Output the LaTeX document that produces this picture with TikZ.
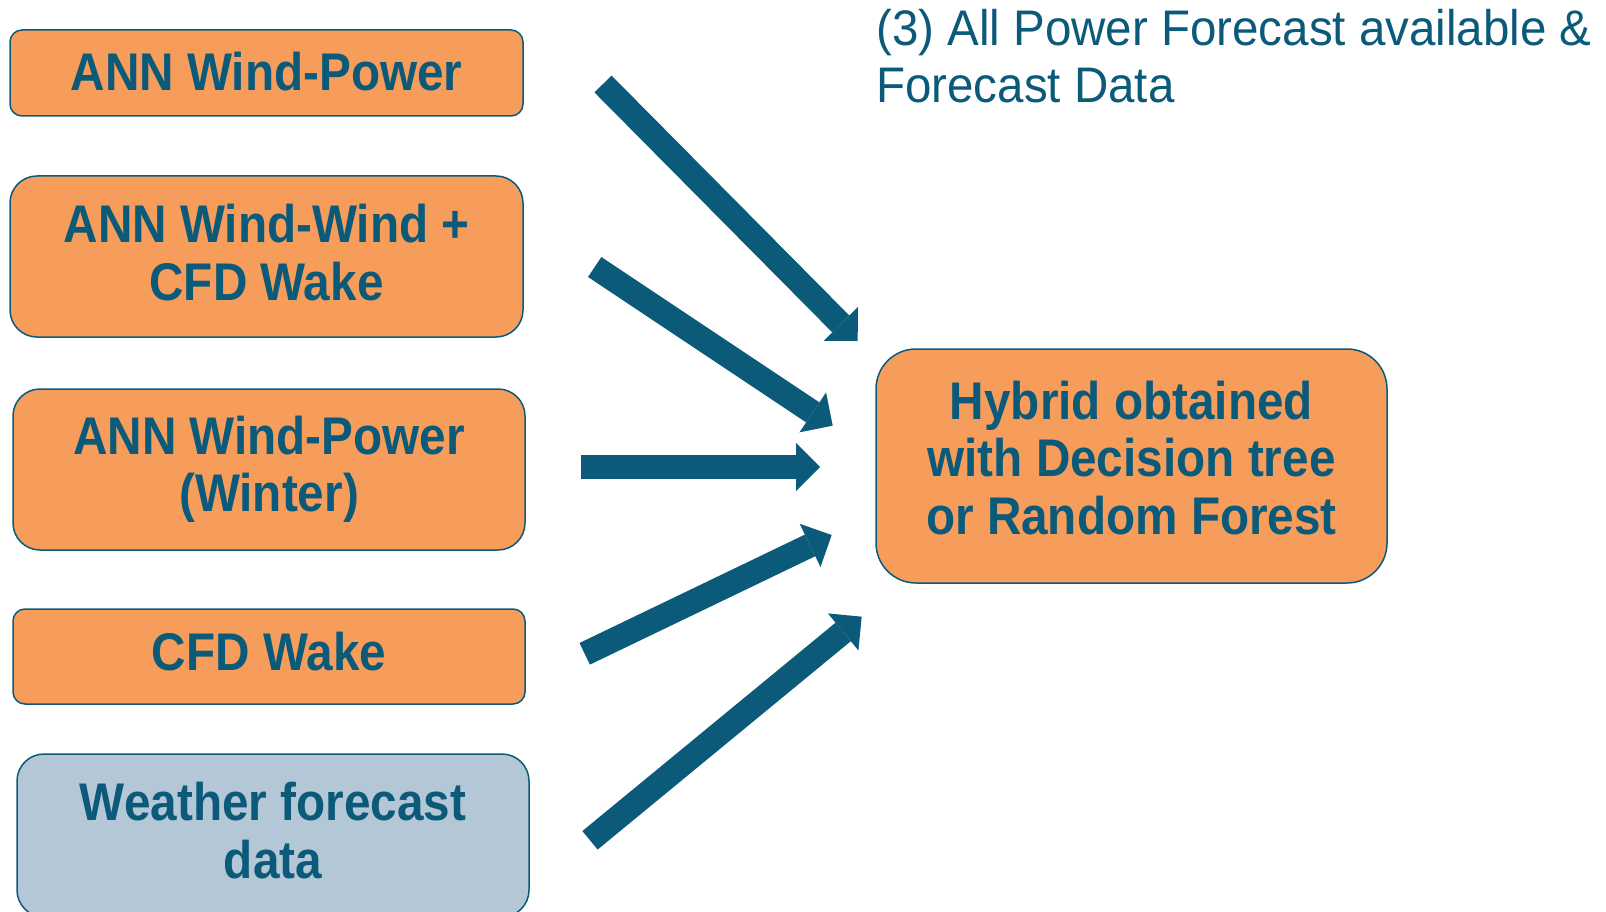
\documentclass[tikz,border=0pt]{standalone}
\usepackage{fontspec}
\setmainfont{Liberation Sans}
\newfontfamily\boxfont[FakeStretch=0.90]{Liberation Sans Bold}
\newfontfamily\titlefont[FakeStretch=0.95]{Liberation Sans}
\usetikzlibrary{arrows.meta}
\definecolor{orng}{HTML}{F79D5C}
\definecolor{dblue}{HTML}{0B5A7A}
\definecolor{lblue}{HTML}{B3C7D6}
\newcommand{\lowpad}[1]{\rule[-#1]{0pt}{0pt}}
\begin{document}
\begin{tikzpicture}[x=1pt,y=-1pt,
  box/.style={draw=dblue, line width=1.5pt, fill=orng, text=dblue,
    font=\boxfont\fontsize{53}{57.5}\selectfont, align=center, inner sep=0pt},
  titletext/.style={anchor=base west, inner sep=0pt, text=dblue,
    font=\titlefont\fontsize{50}{58}\selectfont},
  bigarrow/.style={draw=dblue, line width=24pt,
    -{Triangle[length=24pt, width=48pt, line width=0pt]}}]
\useasboundingbox (0,0) rectangle (1606,912);

\node[box, minimum width=513pt, minimum height=86pt, rounded corners=12pt] (b1) at (266.5,73) {ANN Wind-Power\lowpad{4pt}};
\node[box, minimum width=513pt, minimum height=161pt, rounded corners=27pt] (b2) at (266.5,256.5) {ANN Wind-Wind +\\CFD Wake\lowpad{8pt}};
\node[box, minimum width=512pt, minimum height=161pt, rounded corners=27pt] (b3) at (269,469.5) {ANN Wind-Power\\(Winter)};
\node[box, minimum width=512pt, minimum height=95pt, rounded corners=12pt] (b4) at (269,656.5) {CFD Wake\lowpad{10pt}};
\node[box, fill=lblue, minimum width=512pt, minimum height=163pt, rounded corners=27pt] (b5) at (273,835.5) {Weather forecast\\data\lowpad{10pt}};
\node[box, minimum width=511pt, minimum height=234pt, rounded corners=40pt] (hy) at (1131.5,466) {Hybrid obtained\\with Decision tree\\or Random Forest\lowpad{17pt}};

\node[titletext] (t1) at (876,46) {(3) All Power Forecast available \&};
\node[titletext] (t2) at (876,103) {Forecast Data};

\coordinate (s1) at (603,84);    \coordinate (e1) at (857.7,341);
\coordinate (s2) at (594.7,267); \coordinate (e2) at (832.7,425.7);
\coordinate (s3) at (581,467);   \coordinate (e3) at (820,467);
\coordinate (s4) at (584.7,653.8); \coordinate (e4) at (831.7,535);
\coordinate (s5) at (590,840.3); \coordinate (e5) at (861.7,616.7);

\draw[bigarrow] (s1) -- (e1);
\draw[bigarrow] (s2) -- (e2);
\draw[bigarrow] (s3) -- (e3);
\draw[bigarrow] (s4) -- (e4);
\draw[bigarrow] (s5) -- (e5);
\end{tikzpicture}
\end{document}
